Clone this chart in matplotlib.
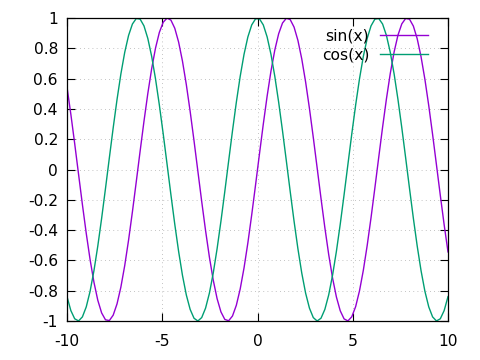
import numpy as np
import matplotlib
matplotlib.use("Agg")
import matplotlib.pyplot as plt

# plotted functions, sampled like gnuplot does (100 samples on [-10, 10])
x_range = (-10, 10)
n_samples = 100
labels = ["sin(x)", "cos(x)"]
colors = ["#9400d3", "#009e73"]
funcs = [np.sin, np.cos]

x_ticks = [-10, -5, 0, 5, 10]
y_ticks = [-1, -0.8, -0.6, -0.4, -0.2, 0, 0.2, 0.4, 0.6, 0.8, 1]
y_tick_labels = ["-1", "-0.8", "-0.6", "-0.4", "-0.2", "0", "0.2", "0.4", "0.6", "0.8", "1"]

plt.rcParams["font.family"] = "DejaVu Sans"
plt.rcParams["font.size"] = 11
plt.rcParams["axes.unicode_minus"] = False

fig = plt.figure(figsize=(4.8, 3.6), dpi=100)
ax = fig.add_axes([67 / 480, 1 - 321 / 360, (448 - 67) / 480, (321 - 18) / 360])

x = np.linspace(x_range[0], x_range[1], n_samples)
for f, lab, c in zip(funcs, labels, colors):
    ax.plot(x, f(x), color=c, linewidth=1, label=lab)

ax.set_xlim(x_range)
ax.set_ylim(-1, 1)
ax.set_xticks(x_ticks)
ax.set_yticks(y_ticks)
ax.set_yticklabels(y_tick_labels)

ax.grid(True, color="#b0b0b0", linestyle=(0, (1, 4)), linewidth=0.6)
ax.tick_params(direction="in", length=6, width=0.8, top=True, right=True,
               labelsize=11.2)
ax.tick_params(axis="x", pad=9.5)
ax.tick_params(axis="y", pad=6.5)
for s in ax.spines.values():
    s.set_linewidth(0.9)

leg = ax.legend(loc="upper right", frameon=False, markerfirst=False,
                handlelength=3.1, handletextpad=0.7, labelspacing=0.25,
                fontsize=11.2, borderaxespad=0.3, bbox_to_anchor=(0.977, 1.0))

fig.savefig("out.png", dpi=100)
